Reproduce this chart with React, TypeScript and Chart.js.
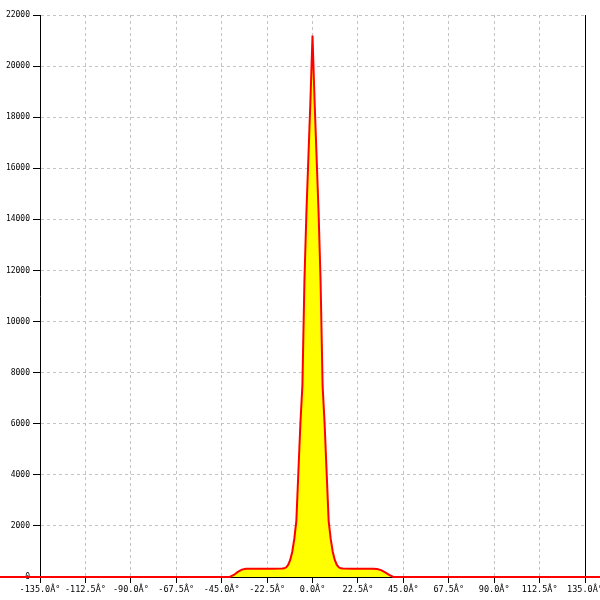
import React, { useEffect, useRef } from "react";
import { Chart, registerables } from "chart.js";

Chart.register(...registerables);

// angle (degrees) and counts
const angles = [
  -160, -41, -39, -37, -35, -33, -30, -25, -20, -15, -14, -13, -12, -11, -10,
  -9, -8, -7, -6, -5, -4, -3, -2, -1, 0, 1, 2, 3, 4, 5, 6, 7, 8, 9, 10, 11,
  12, 13, 14, 15, 20, 25, 30, 32, 34, 36, 38, 40, 160,
];
const counts = [
  0, 0, 80, 200, 290, 320, 325, 325, 325, 330, 340, 380, 480, 680, 1000,
  1500, 2200, 4100, 6000, 7500, 11600, 14300, 16500, 18700, 21200, 18700,
  16500, 14300, 11600, 7500, 6000, 4100, 2200, 1500, 1000, 680, 480, 380, 340,
  330, 325, 325, 320, 310, 270, 180, 80, 0, 0,
];

const xMin = -135;
const xMax = 135;
const xStep = 22.5;
const yMin = 0;
const yMax = 22000;
const yStep = 2000;

export default function App() {
  const ref = useRef<HTMLCanvasElement>(null);

  useEffect(() => {
    document.body.style.margin = "0";
    const canvas = ref.current;
    if (!canvas) return;
    const data = angles.map((a, i) => ({ x: a, y: counts[i] }));
    const chart = new Chart(canvas, {
      type: "line",
      data: {
        datasets: [
          {
            data,
            borderColor: "#ff0000",
            backgroundColor: "#ffff00",
            borderWidth: 2,
            fill: "origin",
            pointRadius: 0,
            tension: 0,
            clip: false as any,
          },
        ],
      },
      options: {
        responsive: false,
        animation: false,
        layout: { padding: { top: 15, right: 0, left: 0, bottom: 0 } },
        plugins: { legend: { display: false }, tooltip: { enabled: false } },
        scales: {
          x: {
            type: "linear",
            min: xMin,
            max: xMax,
            afterFit: (s: any) => {
              s.height = 23;
              s.paddingLeft = 0;
              s.paddingRight = 0;
            },
            ticks: {
              stepSize: xStep,
              autoSkip: false,
              maxRotation: 0,
              padding: 2,
              color: "#000",
              font: { family: "DejaVu Sans Mono", size: 8.5 },
              callback: (v: any) => Number(v).toFixed(1) + "Â°",
            },
            grid: {
              color: "#c4c4c4",
              lineWidth: 1,
              tickColor: "#000",
              tickLength: 6,
            },
            border: { display: true, color: "#000", width: 1, dash: [3, 3] },
          },
          y: {
            type: "linear",
            min: yMin,
            max: yMax,
            afterFit: (s: any) => {
              s.width = 40;
              s.paddingTop = 0;
              s.paddingBottom = 0;
            },
            ticks: {
              stepSize: yStep,
              padding: 3,
              color: "#000",
              font: { family: "DejaVu Sans Mono", size: 8 },
              callback: (v: any) => String(v),
            },
            grid: {
              color: "#c4c4c4",
              lineWidth: 1,
              tickColor: "#000",
              tickLength: 7,
            },
            border: { display: true, color: "#000", width: 1, dash: [3, 3] },
          },
          y2: {
            type: "linear",
            position: "right",
            min: yMin,
            max: yMax,
            afterFit: (s: any) => {
              s.width = 15;
              s.paddingTop = 0;
              s.paddingBottom = 0;
            },
            ticks: { display: false },
            grid: { drawOnChartArea: false, drawTicks: false },
            border: { display: true, color: "#000", width: 1 },
          },
        },
      },
    });
    return () => chart.destroy();
  }, []);

  return (
    <div style={{ width: 600, height: 600, background: "#fff" }}>
      <canvas ref={ref} width={600} height={600} />
    </div>
  );
}
